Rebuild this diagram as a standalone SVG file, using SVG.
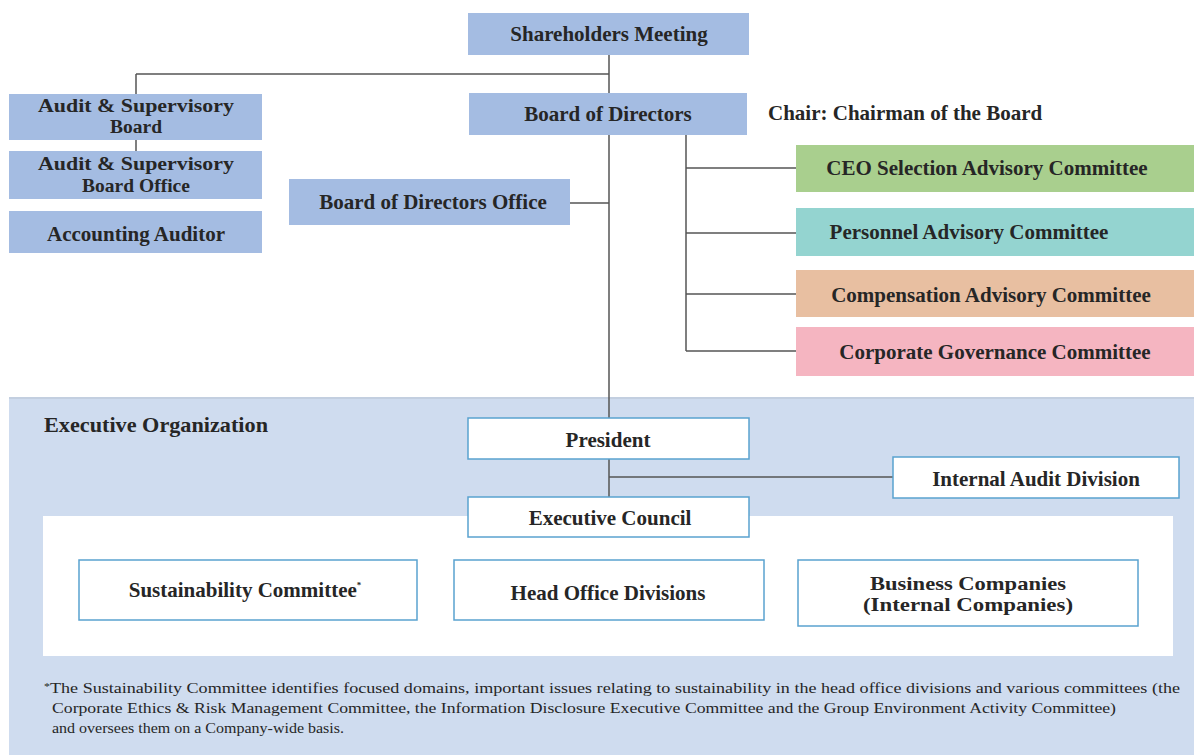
<svg xmlns="http://www.w3.org/2000/svg" width="1194" height="755" viewBox="0 0 1194 755">
<style>
.t{font-family:"Liberation Serif","Times New Roman",serif;font-weight:bold;font-size:21px;fill:#262626;text-anchor:middle}
.s{font-size:19.5px}
.b{fill:#a4bce2}
.w{fill:#ffffff;stroke:#5aa2cf;stroke-width:1.5}
.c{fill:none;stroke:#555555;stroke-width:1.5}
.f{font-family:"Liberation Serif","Times New Roman",serif;font-size:15px;fill:#262626}
</style>
<rect width="1194" height="755" fill="#ffffff"/>
<rect id="executive-area" x="9" y="397" width="1185" height="358" fill="#cfdcef"/>
<rect x="9" y="397" width="1185" height="2" fill="#c3cfe0"/>
<rect id="inner-area" x="43" y="516" width="1130" height="140" fill="#ffffff"/>
<text class="t" x="44" y="432" textLength="224" lengthAdjust="spacingAndGlyphs" style="text-anchor:start">Executive Organization</text>
<g id="connectors">
<path class="c" d="M136 74H609M136 74V94M136 140V151M609 55V418M570 203H609M686 135V351M686 168H796M686 233H796M686 294H796M686 351H796M609 459V497M609 477H893"/>
</g>
<g id="shareholders"><rect class="b" x="468" y="13" width="281" height="42"/><text class="t" x="609" y="41">Shareholders Meeting</text></g>
<g id="asb"><rect class="b" x="9" y="94" width="253" height="46"/><text class="t s" x="136" y="112" textLength="196" lengthAdjust="spacingAndGlyphs">Audit &amp; Supervisory</text><text class="t s" x="136" y="133">Board</text></g>
<g id="asbo"><rect class="b" x="9" y="151" width="253" height="48"/><text class="t s" x="136" y="170" textLength="196" lengthAdjust="spacingAndGlyphs">Audit &amp; Supervisory</text><text class="t s" x="136" y="192">Board Office</text></g>
<g id="accounting"><rect class="b" x="9" y="211" width="253" height="42"/><text class="t" x="136" y="241">Accounting Auditor</text></g>
<g id="bod"><rect class="b" x="469" y="93" width="278" height="42"/><text class="t" x="608" y="121">Board of Directors</text></g>
<g id="chair"><text class="t" x="768" y="120" style="text-anchor:start">Chair: Chairman of the Board</text></g>
<g id="bodo"><rect class="b" x="289" y="179" width="281" height="46"/><text class="t" x="433" y="209">Board of Directors Office</text></g>
<g id="ceo"><rect x="796" y="145" width="398" height="47" fill="#a9cf8e"/><text class="t" x="987" y="175">CEO Selection Advisory Committee</text></g>
<g id="personnel"><rect x="796" y="208" width="398" height="48" fill="#94d4d0"/><text class="t" x="969" y="239">Personnel Advisory Committee</text></g>
<g id="compensation"><rect x="796" y="270" width="398" height="47" fill="#e8bfa1"/><text class="t" x="991" y="302">Compensation Advisory Committee</text></g>
<g id="cg"><rect x="796" y="327" width="398" height="49" fill="#f5b5c1"/><text class="t" x="995" y="359">Corporate Governance Committee</text></g>
<g id="president"><rect class="w" x="468" y="418" width="281" height="41"/><text class="t" x="608" y="447">President</text></g>
<g id="iad"><rect class="w" x="893" y="457" width="286" height="41"/><text class="t" x="1036" y="486">Internal Audit Division</text></g>
<g id="council"><rect class="w" x="468" y="497" width="281" height="40"/><text class="t" x="610" y="525">Executive Council</text></g>
<g id="sustainability"><rect class="w" x="79" y="560" width="338" height="60"/><text class="t" x="245" y="597">Sustainability Committee<tspan dy="-9" font-size="9">*</tspan></text></g>
<g id="hod"><rect class="w" x="454" y="560" width="310" height="60"/><text class="t" x="608" y="600">Head Office Divisions</text></g>
<g id="business"><rect class="w" x="798" y="560" width="340" height="66"/><text class="t s" x="968" y="590" textLength="196" lengthAdjust="spacingAndGlyphs">Business Companies</text><text class="t s" x="968" y="611" textLength="210" lengthAdjust="spacingAndGlyphs">(Internal Companies)</text></g>
<g id="footnote">
<text class="f" x="44" y="693" textLength="1136" lengthAdjust="spacingAndGlyphs"><tspan font-size="10" dy="-3">*</tspan><tspan dy="3">The Sustainability Committee identifies focused domains, important issues relating to sustainability in the head office divisions and various committees (the</tspan></text>
<text class="f" x="52" y="713" textLength="1064" lengthAdjust="spacingAndGlyphs">Corporate Ethics &amp; Risk Management Committee, the Information Disclosure Executive Committee and the Group Environment Activity Committee)</text>
<text class="f" x="52" y="733" textLength="292" lengthAdjust="spacingAndGlyphs">and oversees them on a Company-wide basis.</text>
</g>
</svg>
